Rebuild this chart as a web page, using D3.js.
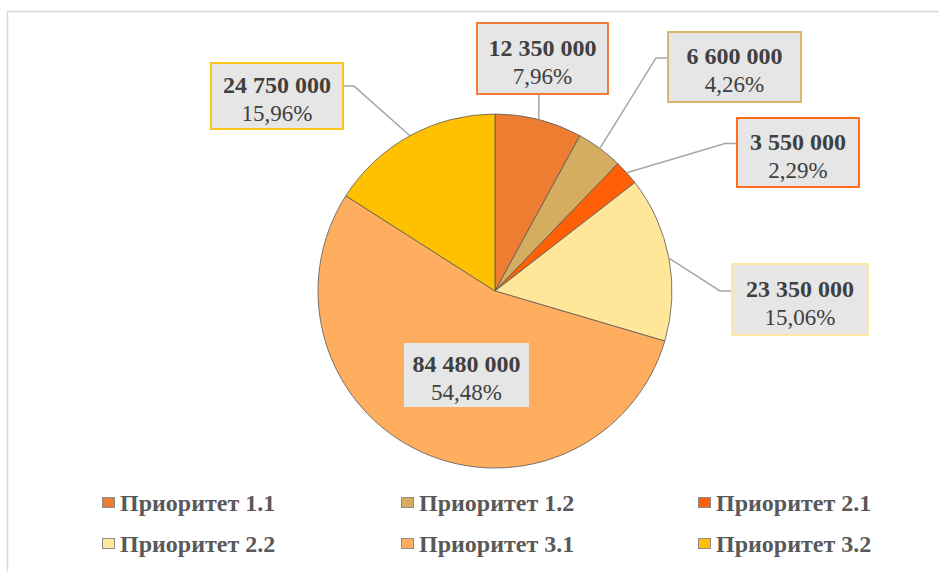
<!DOCTYPE html>
<html><head><meta charset="utf-8">
<script src="https://cdn.jsdelivr.net/npm/d3@7"></script>
<style>body{margin:0;background:#fff;}svg{display:block;}</style>
</head><body>
<svg id="c" width="939" height="572"></svg>
<script>
const categories = ["Приоритет 1.1","Приоритет 1.2","Приоритет 2.1","Приоритет 2.2","Приоритет 3.1","Приоритет 3.2"];
const values = [12350000, 6600000, 3550000, 23350000, 84480000, 24750000];
const colors = ["#ED7D31","#D5AD61","#FF6005","#FFE699","#FFAE60","#FFC000"];
const borderColors = ["#F66F22","#D9AE60","#FF6005","#FFE699","#FFAE60","#FFC000"];
// label box layout [x, y, w, h] (layout only)
const boxes = [[477,23,131,71],[668,32,133,70],[737,118,122,69],[732,264,136,71],[404,343,125,64],[211,63,132,66]];

const FONT = "'Liberation Serif','Times New Roman',Times,serif";
const svg = d3.select("#c");
svg.append("rect").attr("x",7.5).attr("y",11.5).attr("width",940).attr("height",570)
  .attr("fill","#fff").attr("stroke","#D9D9D9").attr("stroke-width",1.5);

const cx=495, cy=291, r=177;
const total = d3.sum(values);
const pie = d3.pie().sort(null).value(d=>d)(values);
const arc = d3.arc().innerRadius(0).outerRadius(r);
const g = svg.append("g").attr("transform",`translate(${cx},${cy})`);
g.selectAll("path").data(pie).join("path").attr("d",arc)
  .attr("fill",(d,i)=>colors[i]).attr("stroke","#595959").attr("stroke-width",0.8);

const fmt = v => d3.format(",")(v).replace(/,/g," ");
const pct = v => (v/total*100).toFixed(2).replace(".",",")+"%";

// leader lines
pie.forEach((d,i)=>{
  if(i===4) return;
  const a=(d.startAngle+d.endAngle)/2;
  const ex=cx+r*Math.sin(a), ey=cy-r*Math.cos(a);
  const [bx,by,bw,bh]=boxes[i];
  let pts;
  if(i===0){ pts=[[ex,ey],[ex,by+bh]]; }
  else if(bx>cx){ pts=[[ex,ey],[bx-12,by+bh*0.37],[bx,by+bh*0.37]]; }
  else { pts=[[ex,ey],[bx+bw+11,by+bh*0.35],[bx+bw,by+bh*0.35]]; }
  if(i===3) pts=[[ex,ey],[bx-12,by+bh*0.38],[bx,by+bh*0.38]];
  svg.append("path").attr("d",d3.line()(pts)).attr("fill","none")
    .attr("stroke","#A6A6A6").attr("stroke-width",1.5);
});

// label boxes
boxes.forEach(([bx,by,bw,bh],i)=>{
  svg.append("rect").attr("x",bx).attr("y",by).attr("width",bw).attr("height",bh)
    .attr("fill","#E6E6E6").attr("stroke",borderColors[i]).attr("stroke-width",i===4?0:1.8);
  const tx=bx+bw/2, top=by+(bh-66)/2;
  svg.append("text").attr("x",tx).attr("y",top+30).attr("text-anchor","middle")
    .attr("font-family",FONT).attr("font-weight","bold").attr("font-size",24)
    .attr("fill","#404040").text(fmt(values[i]));
  svg.append("text").attr("x",tx).attr("y",top+58).attr("text-anchor","middle")
    .attr("font-family",FONT).attr("font-size",23)
    .attr("fill","#404040").text(pct(values[i]));
});

// legend
const colX=[102,401,698], rowY=[511,552];
categories.forEach((c,i)=>{
  const x=colX[i%3], y=rowY[Math.floor(i/3)];
  svg.append("rect").attr("x",x+0.5).attr("y",y-13.5).attr("width",12).attr("height",10)
    .attr("fill",colors[i]).attr("stroke","#8C8C8C").attr("stroke-width",1);
  svg.append("text").attr("x",x+18).attr("y",y).attr("font-family",FONT)
    .attr("font-weight","bold").attr("font-size",24).attr("fill","#595959").text(c);
});
</script>
</body></html>
